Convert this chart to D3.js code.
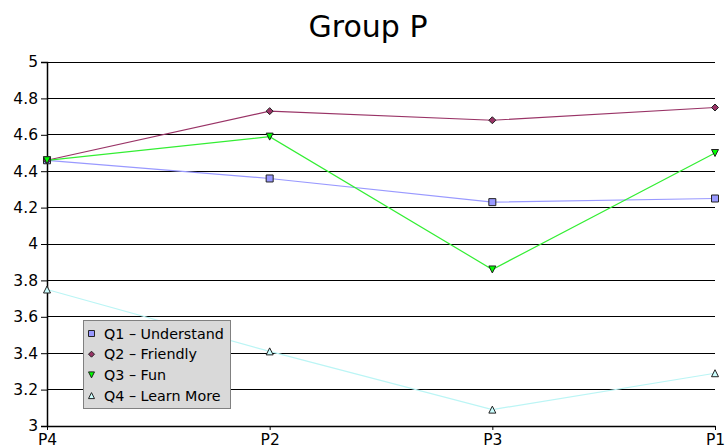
<!DOCTYPE html>
<html><head><meta charset="utf-8">
<script src="https://cdn.jsdelivr.net/npm/d3@7"></script>
<style>body{margin:0;background:#fff}svg{display:block;font-family:"DejaVu Sans",sans-serif}</style>
</head><body><svg id="c" width="725" height="448"></svg>
<script>
const categories = ["P4","P2","P3","P1"];
const seriesNames = ["Q1 – Understand","Q2 – Friendly","Q3 – Fun","Q4 – Learn More"];
const q1 = [4.46, 4.36, 4.23, 4.25];
const q2 = [4.46, 4.73, 4.68, 4.75];
const q3 = [4.46, 4.59, 3.86, 4.50];
const q4 = [3.75, 3.41, 3.09, 3.29];
const yTicks = [3,3.2,3.4,3.6,3.8,4,4.2,4.4,4.6,4.8,5];

const series = [
  {name: seriesNames[0], values: q1, fill: "#9999ff", line: "#9999ff", shape: "square"},
  {name: seriesNames[1], values: q2, fill: "#993366", line: "#993366", shape: "diamond"},
  {name: seriesNames[2], values: q3, fill: "#00ff00", line: "#33ee33", shape: "down"},
  {name: seriesNames[3], values: q4, fill: "#ccffff", line: "#bbf5f5", shape: "up"}
];

const svg = d3.select("#c");
const m = {l:47};
const x = d3.scalePoint().domain(categories).range([m.l, 715]);
const y = d3.scaleLinear().domain([3,5]).range([426, 62]);

svg.append("text").attr("x", 368).attr("y", 37).attr("text-anchor","middle")
  .attr("font-size", 30).text("Group P");

// grid
svg.append("g").selectAll("line").data(yTicks.slice(1)).join("line")
  .attr("x1", m.l).attr("x2", 715).attr("y1", d=>y(d)).attr("y2", d=>y(d))
  .attr("stroke", "#000").attr("stroke-width", 1).attr("shape-rendering","crispEdges");

// y axis
const ya = svg.append("g").attr("transform", `translate(${m.l},0)`)
  .call(d3.axisLeft(y).tickValues(yTicks).tickSize(6).tickPadding(3).tickFormat(d3.format("")));
ya.select(".domain").attr("stroke-width",1.5);
ya.selectAll("text").attr("font-size", 15.5).attr("fill","#000").attr("font-family","DejaVu Sans");

// x axis
const xa = svg.append("g").attr("transform", `translate(0,426)`)
  .call(d3.axisBottom(x).tickSize(4).tickPadding(4).tickSizeOuter(0));
xa.select(".domain").attr("stroke-width",1.5);
xa.selectAll("text").attr("font-size", 15.5).attr("fill","#000").attr("font-family","DejaVu Sans");

const line = d3.line().x((d,i)=>x(categories[i])).y(d=>y(d));

function marker(g, shape, cx, cy, fill, s) {
  let p;
  if (shape==="square") p = `M${cx-s},${cy-s}h${2*s}v${2*s}h${-2*s}Z`;
  else if (shape==="diamond") p = `M${cx},${cy-s}L${cx+s},${cy}L${cx},${cy+s}L${cx-s},${cy}Z`;
  else if (shape==="down") p = `M${cx-s},${cy-s}L${cx+s},${cy-s}L${cx},${cy+s}Z`;
  else p = `M${cx},${cy-s}L${cx+s},${cy+s}L${cx-s},${cy+s}Z`;
  g.append("path").attr("d", p).attr("fill", fill).attr("stroke", "#222").attr("stroke-width", 1);
}

series.forEach(s => {
  svg.append("path").datum(s.values).attr("d", line).attr("fill","none")
    .attr("stroke", s.line).attr("stroke-width", 1.2);
});
series.forEach(s => {
  const g = svg.append("g");
  s.values.forEach((v,i) => marker(g, s.shape, x(categories[i]), y(v), s.fill, 3.5));
});

// legend
const lg = svg.append("g");
lg.append("rect").attr("x", 83.5).attr("y", 320.5).attr("width", 147).attr("height", 88)
  .attr("fill", "#d9d9d9").attr("stroke", "#808080").attr("stroke-width", 1);
series.forEach((s,i) => {
  const cy = 333.5 + i*20.7;
  marker(lg, s.shape, 91.5, cy, s.fill, 3);
  lg.append("text").attr("x", 104).attr("y", cy+5).attr("font-size", 14.3).text(s.name);
});
</script></body></html>
